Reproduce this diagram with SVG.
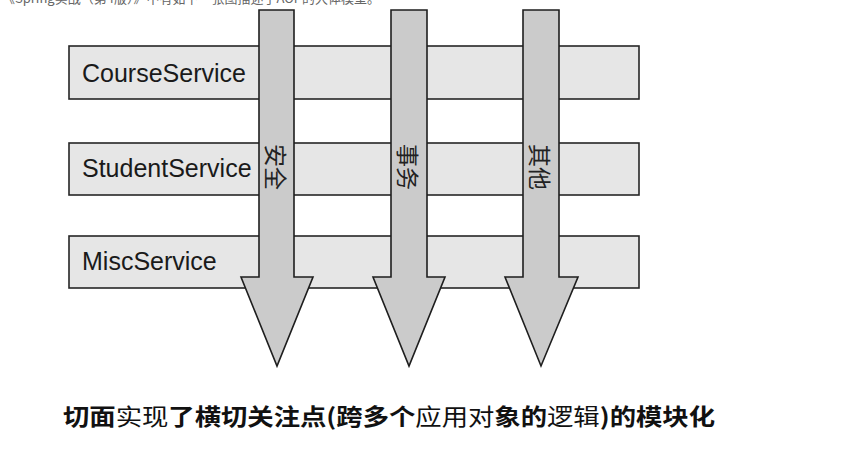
<svg xmlns="http://www.w3.org/2000/svg" width="850" height="452" viewBox="0 0 850 452">
<style>
.bar{fill:#e6e6e6;stroke:#262626;stroke-width:1.6}
.arrow{fill:#cbcbcb;stroke:#1e1e1e;stroke-width:1.6;stroke-linejoin:miter}
.lbl{font-family:"Liberation Sans",Arial,sans-serif;font-size:25px;fill:#1a1a1a}
.asp{font-family:"Noto Sans CJK SC","Noto Sans",sans-serif;font-size:23px;fill:#222;text-anchor:middle;dominant-baseline:central}
.cap{font-family:"Noto Sans CJK SC",sans-serif;font-size:23px;font-weight:bold;fill:#111}
.top{font-family:"Noto Sans CJK SC",sans-serif;font-size:13px;fill:#666}
</style>
<rect width="850" height="452" fill="#ffffff"/>
<text class="top" x="2" y="3">《Spring实战（第4版）》中有如下一张图描述了AOP的大体模型。</text>
<g id="course-service">
<rect class="bar" x="69" y="46" width="570" height="53"/>
<text class="lbl" x="82" y="82">CourseService</text>
</g>
<g id="student-service">
<rect class="bar" x="69" y="143" width="570" height="52"/>
<text class="lbl" x="82" y="177">StudentService</text>
</g>
<g id="misc-service">
<rect class="bar" x="69" y="236" width="570" height="52"/>
<text class="lbl" x="82" y="270">MiscService</text>
</g>
<g id="aspect-security">
<path class="arrow" d="M259,10 H294 V277 H313 L277,366 L241,277 H259 Z"/>
<text class="asp" transform="translate(277,167) rotate(90)">安全</text>
</g>
<g id="aspect-transaction">
<path class="arrow" d="M391,10 H427 V277 H445 L409,366 L373,277 H391 Z"/>
<text class="asp" transform="translate(409,167) rotate(90)">事务</text>
</g>
<g id="aspect-other">
<path class="arrow" d="M523,10 H559 V277 H578 L541,366 L505,277 H523 Z"/>
<text class="asp" transform="translate(541,167) rotate(90)">其他</text>
</g>
<g id="caption">
<text class="cap" x="63" y="425" textLength="652" lengthAdjust="spacingAndGlyphs">切面<tspan font-weight="normal">实现</tspan>了横切关注点(跨多个<tspan font-weight="normal">应用对</tspan>象的<tspan font-weight="normal">逻辑</tspan>)的模块化</text>
</g>
</svg>
